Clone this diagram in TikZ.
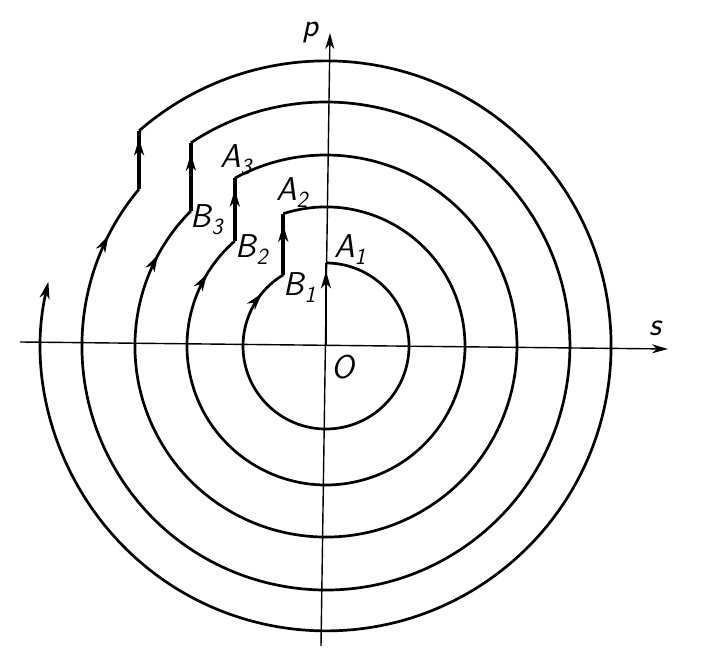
\documentclass[tikz,border=0pt]{standalone}
\usepackage{fontspec}
\usetikzlibrary{arrows.meta,decorations.markings}
\begin{document}
\begin{tikzpicture}[x=1pt,y=1pt,
  axisline/.style={line width=1.4pt},
  traj/.style={line width=2.7pt},
  jump/.style={line width=4.2pt},
  arrowat/.style={postaction={decorate},decoration={markings,mark=at position #1 with {\arrow{Stealth[length=17pt,width=10pt,inset=5pt]}}}},
  lab/.style={font=\fontsize{33}{35}\selectfont\sffamily\itshape, inner sep=0pt}]
\useasboundingbox (0,0) rectangle (702,668);
\begin{scope}[shift={(326,322)}]
  \coordinate (O) at (0,0);
  \coordinate (Pb) at (-5,-300);
  \coordinate (Pt) at (4,313);
  \coordinate (Sl) at (-306,4);
  \coordinate (Sr) at (342,-3);
  \coordinate (A1) at (0,83);
  \coordinate (B1) at (-42.75,71.15);
  \coordinate (A2) at (-42.75,132.3);
  \coordinate (B2) at (-91.2,104.9);
  \coordinate (A3) at (-91.2,167.8);
  \coordinate (B3) at (-135.1,135.1);
  \coordinate (A4) at (-135.1,203.2);
  \coordinate (B4) at (-186.9,156.8);
  \coordinate (A5) at (-186.9,215.2);
  % axes
  \draw[axisline,-{Stealth[length=16pt,width=9pt,inset=5pt]}] (Pb) -- (Pt);
  \draw[axisline,-{Stealth[length=16pt,width=9pt,inset=5pt]}] (Sl) -- (Sr);
  % trajectory
  \draw[traj,arrowat=0.9] (O) -- (A1);
  \draw[traj,arrowat=0.94] (A1) arc[start angle=90,end angle=-239,radius=83];
  \draw[jump,arrowat=0.82] (B1) -- (A2);
  \draw[traj,arrowat=0.947] (A2) arc[start angle=107.9,end angle=-229,radius=139];
  \draw[jump,arrowat=0.82] (B2) -- (A3);
  \draw[traj,arrowat=0.952] (A3) arc[start angle=118.5,end angle=-225,radius=191];
  \draw[jump,arrowat=0.84] (B3) -- (A4);
  \draw[traj,arrowat=0.962] (A4) arc[start angle=123.6,end angle=-220,radius=244];
  \draw[jump,arrowat=0.87] (B4) -- (A5);
  \draw[traj,-{Stealth[length=17pt,width=10pt,inset=5pt]}] (A5) arc[start angle=131,end angle=-193,radius=285] coordinate (E);
  % labels
  \node[lab] (lp) at (-16,313) {p};
  \node[lab] (ls) at (329,18) {s};
  \node[lab] (lO) at (17,-21) {O};
  \node[lab] (la1) at (24,96) {A\textsubscript{1}};
  \node[lab] (la2) at (-34,153) {A\textsubscript{2}};
  \node[lab] (la3) at (-90,186) {A\textsubscript{3}};
  \node[lab] (lb1) at (-26,58) {B\textsubscript{1}};
  \node[lab] (lb2) at (-74,96) {B\textsubscript{2}};
  \node[lab] (lb3) at (-119,126) {B\textsubscript{3}};
\end{scope}
\end{tikzpicture}
\end{document}
